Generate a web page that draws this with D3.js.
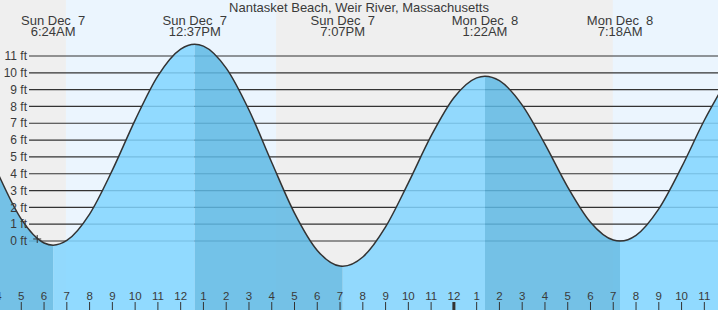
<!DOCTYPE html>
<html lang="en">
<head>
<meta charset="utf-8">
<title>Nantasket Beach tide chart</title>
<script src="https://cdn.jsdelivr.net/npm/d3@7"></script>
<style type="text/css">
  html, body { margin: 0; padding: 0; background: #fff; }
  svg { display: block; }
  text { font-family: 'Liberation Sans', Arial, sans-serif; fill: #3a3a3a; }
</style>
</head>
<body>
<div id="chart"></div>
<script>

/* Data (hours counted from midnight, Sun Dec 7) */
/* ============================================= */

var title = 'Nantasket Beach, Weir River, Massachusetts';

// high / low tide events
var tideHours   = [6.4, 12.617, 19.117, 25.367, 31.3];
var tideHeights = [-0.25, 11.7, -1.5, 9.8, 0.0];
var tideDays    = ['Sun Dec  7', 'Sun Dec  7', 'Sun Dec  7', 'Mon Dec  8', 'Mon Dec  8'];
var tideTimes   = ['6:24AM', '12:37PM', '7:07PM', '1:22AM', '7:18AM'];

// water level, hourly
var levelHours   = [3, 4, 5, 6, 7, 8, 9, 10, 11, 12, 13, 14, 15, 16, 17, 18, 19,
                    20, 21, 22, 23, 24, 25, 26, 27, 28, 29, 30, 31, 32, 33, 34, 35, 36];
var levelHeights = [7.15, 3.95, 1.3, -0.12, 0.03, 1.6, 4.21, 7.19, 9.82, 11.41, 11.59, 10.28, 7.79, 4.67, 1.66, -0.56, -1.49,
                    -0.95, 0.84, 3.46, 6.25, 8.52, 9.7, 9.53, 8.08, 5.76, 3.21, 1.12, 0.06, 0.34, 1.91, 4.39, 7.18, 9.59];

// daylight (sunrise, sunset)
var dayStart = [6.96, 30.98];
var dayEnd   = [16.19, 40.2];

// y grid in feet
var feetTicks = [0, 1, 2, 3, 4, 5, 6, 7, 8, 9, 10, 11];

// x axis hour ticks
var hourTicks = d3.range(4, 36);

// current time marker
var nowHour = 5.7, nowHeight = 0.12;


/* Setup */
/* ===== */

var width = 718,
    height = 310;

var x = d3.scaleLinear().domain([4.065, 35.6]).range([0, width]);
var y = d3.scaleLinear().domain([0, 11]).range([241, 56]);

var svg = d3.select('#chart').append('svg')
    .attr('width', width)
    .attr('height', height);

// merge events and hourly readings into one ordered series
var series = levelHours.map(function(h, i) { return { h: h, v: levelHeights[i] }; })
  .concat(tideHours.map(function(h, i) { return { h: h, v: tideHeights[i] }; }))
  .sort(function(a, b) { return a.h - b.h; });


/* Background: night / day */
/* ----------------------- */

svg.append('rect')
    .attr('width', width).attr('height', height)
    .attr('fill', '#efefef');

svg.selectAll('rect.day')
  .data(dayStart)
  .enter().append('rect')
    .attr('class', 'day')
    .attr('x', function(d) { return x(d); })
    .attr('y', 0)
    .attr('width', function(d, i) { return x(dayEnd[i]) - x(d); })
    .attr('height', height)
    .attr('fill', '#ebf5fe');


/* Grid lines */
/* ---------- */

svg.selectAll('line.grid')
  .data(feetTicks)
  .enter().append('line')
    .attr('class', 'grid')
    .attr('x1', 29).attr('x2', width)
    .attr('y1', function(d) { return y(d); })
    .attr('y2', function(d) { return y(d); })
    .attr('stroke', '#333')
    .attr('stroke-width', 1.2);


/* Water */
/* ----- */

var area = d3.area()
    .x(function(d) { return x(d.h); })
    .y0(height)
    .y1(function(d) { return y(d.v); })
    .curve(d3.curveMonotoneX);

var line = d3.line()
    .x(function(d) { return x(d.h); })
    .y(function(d) { return y(d.v); })
    .curve(d3.curveMonotoneX);

// segments between tide events: rising light, falling darker
var bounds = [3].concat(tideHours).concat([36]);
var defs = svg.append('defs');

bounds.slice(0, -1).forEach(function(b, i) {
  defs.append('clipPath').attr('id', 'seg' + i)
    .append('rect')
      .attr('x', x(b))
      .attr('y', 0)
      .attr('width', x(bounds[i + 1]) - x(b))
      .attr('height', height);

  var nextV = i < tideHeights.length ? tideHeights[i] : 99;
  var prevV = i > 0 ? tideHeights[i - 1] : 99;
  var rising = nextV > prevV;

  svg.append('path')
    .datum(series)
    .attr('clip-path', 'url(#seg' + i + ')')
    .attr('d', area)
    .attr('fill', rising ? '#81d5ff' : '#5eb9e4')
    .attr('fill-opacity', 0.85);
});

svg.append('path')
    .datum(series)
    .attr('d', line)
    .attr('fill', 'none')
    .attr('stroke', '#333')
    .attr('stroke-width', 1.5);


/* Feet labels */
/* ----------- */

svg.selectAll('text.ft')
  .data(feetTicks)
  .enter().append('text')
    .attr('class', 'ft')
    .attr('x', 27)
    .attr('y', function(d) { return y(d); })
    .attr('dy', '0.35em')
    .attr('text-anchor', 'end')
    .style('font-size', '12px')
    .text(function(d) { return d + ' ft'; });


/* Current time marker */
/* ------------------- */

svg.append('path')
    .attr('d', 'M' + (x(nowHour) - 4) + ',' + y(nowHeight) + 'h8M' + x(nowHour) + ',' + (y(nowHeight) - 4) + 'v8')
    .attr('stroke', '#333')
    .attr('stroke-width', 1);


/* Tide labels and title */
/* --------------------- */

svg.append('text')
    .attr('x', 359)
    .attr('y', 12)
    .attr('text-anchor', 'middle')
    .style('font-size', '13px')
    .text(title);

var labels = svg.selectAll('g.tide')
  .data(tideHours)
  .enter().append('g')
    .attr('class', 'tide')
    .attr('transform', function(d) { return 'translate(' + x(d) + ',0)'; });

labels.append('text')
    .attr('y', 24.5)
    .attr('text-anchor', 'middle')
    .style('font-size', '13px')
    .style('white-space', 'pre')
    .text(function(d, i) { return tideDays[i]; });

labels.append('text')
    .attr('y', 36)
    .attr('text-anchor', 'middle')
    .style('font-size', '13px')
    .text(function(d, i) { return tideTimes[i]; });


/* Hour axis */
/* --------- */

var ticks = svg.selectAll('g.hour')
  .data(hourTicks)
  .enter().append('g')
    .attr('class', 'hour')
    .attr('transform', function(d) { return 'translate(' + x(d) + ',0)'; });

ticks.append('line')
    .attr('y1', 302).attr('y2', height)
    .attr('stroke', '#333')
    .attr('stroke-width', function(d) { return d % 24 === 0 ? 3 : 1; });

ticks.append('text')
    .attr('y', 300)
    .attr('text-anchor', 'middle')
    .style('font-size', '11.5px')
    .text(function(d) { var h = d % 12; return h === 0 ? 12 : h; });

</script>
</body>
</html>
